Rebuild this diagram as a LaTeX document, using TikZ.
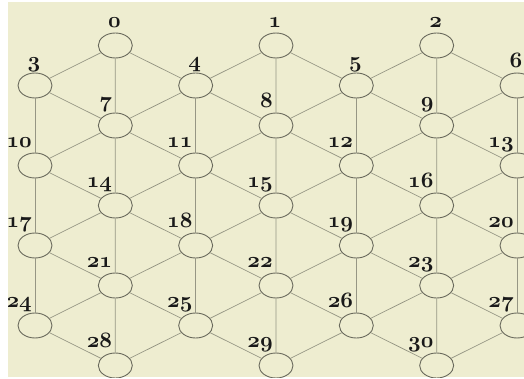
\documentclass[tikz,border=0pt]{standalone}
\usepackage{fix-cm}
\usetikzlibrary{shapes.geometric}
\definecolor{bg}{RGB}{238,237,208}
\definecolor{edgec}{RGB}{150,150,132}
\definecolor{ringc}{RGB}{105,105,92}
\begin{document}
\begin{tikzpicture}[x=1pt,y=-1pt,
  vtx/.style={ellipse,draw=ringc,line width=0.9pt,fill=bg,minimum width=34pt,minimum height=25pt,inner sep=0pt},
  edge/.style={draw=edgec,line width=0.7pt},
  lab/.style={inner sep=0pt,text=black!90,font=\fontsize{22}{22}\usefont{OML}{cmm}{b}{it}}]
\useasboundingbox (0,0) rectangle (524,379);
\fill[bg] (8,2) rectangle (524,377);
\begin{scope}
\clip (8,2) rectangle (524,377);
\foreach \n in {0,...,30}{
  \pgfmathtruncatemacro\mm{div(\n,7)}
  \pgfmathtruncatemacro\rr{mod(\n,7)}
  \pgfmathtruncatemacro\lv{\rr<3 ? 2*\mm : 2*\mm+1}
  \pgfmathtruncatemacro\cc{\rr<3 ? 2*\rr+1 : 2*(\rr-3)}
  \pgfmathsetmacro\X{35+80.33*\cc}
  \pgfmathsetmacro\Y{45.5+40*\lv}
  \node[vtx] (n\n) at (\X,\Y) {};
  \ifnum\lv<2
    \node[lab,anchor=base] (l\n) at (\X-1,\Y-18) {\n};
  \else
    \node[lab,anchor=base east] (l\n) at (\X-3,\Y-18) {\n};
  \fi
}
\foreach \mm in {0,...,3}{\foreach \j in {0,1,2}{
  \pgfmathtruncatemacro\na{7*\mm+\j}
  \pgfmathtruncatemacro\nb{7*\mm+3+\j}
  \pgfmathtruncatemacro\nc{7*\mm+4+\j}
  \pgfmathtruncatemacro\nd{7*\mm+7+\j}
  \draw[edge] (n\na) -- (n\nb) (n\na) -- (n\nc) (n\na) -- (n\nd) (n\nd) -- (n\nb) (n\nd) -- (n\nc);
}}
\foreach \mm in {0,1,2}{\foreach \j in {0,...,3}{
  \pgfmathtruncatemacro\na{7*\mm+3+\j}
  \pgfmathtruncatemacro\nb{7*\mm+10+\j}
  \draw[edge] (n\na) -- (n\nb);
}}
\end{scope}
\end{tikzpicture}
\end{document}
